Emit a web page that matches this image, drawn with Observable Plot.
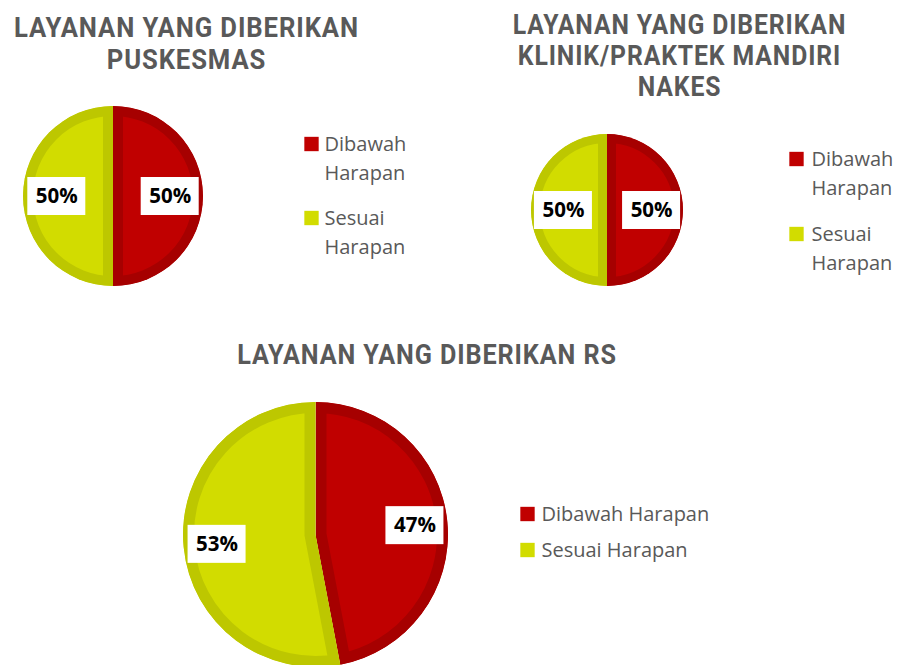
<!DOCTYPE html>
<html>
<head>
<meta charset="utf-8">
<script src="https://cdn.jsdelivr.net/npm/d3@7"></script>
<script src="https://cdn.jsdelivr.net/npm/@observablehq/plot@0.6"></script>
<style>
  html, body { margin: 0; padding: 0; background: #fff; }
  #chart { width: 897px; height: 665px; overflow: hidden; }
</style>
</head>
<body>
<div id="chart"></div>
<script>
// ---- data ----
const categories = ["Dibawah Harapan", "Sesuai Harapan"];
const puskesmasValues = [50, 50];
const klinikValues = [50, 50];
const rsValues = [47, 53];
const titlePuskesmas = ["LAYANAN YANG DIBERIKAN", "PUSKESMAS"];
const titleKlinik = ["LAYANAN YANG DIBERIKAN", "KLINIK/PRAKTEK MANDIRI", "NAKES"];
const titleRS = ["LAYANAN YANG DIBERIKAN RS"];
const legendPuskesmas = [["Dibawah", "Harapan"], ["Sesuai", "Harapan"]];
const legendKlinik = [["Dibawah", "Harapan"], ["Sesuai", "Harapan"]];
const legendRS = [["Dibawah Harapan"], ["Sesuai Harapan"]];

// ---- layout / style ----
const W = 897, H = 665;
const fills = ["#C00000", "#D2DC00"];
const rings = ["#A60000", "#BDC700"];
const titleColor = "#595959";
const titleSqueeze = 0.9;
const panels = [
  {values: puskesmasValues, title: titlePuskesmas, legend: legendPuskesmas,
   cx: 113, cy: 196, r: 90, ring: 10, labelK: 0.63,
   titleX: 186, titleY: 36, titleStep: 32, titleSize: 28.5,
   legX: 304, legTextX: 324, legY: [150, 224], legStep: 29},
  {values: klinikValues, title: titleKlinik, legend: legendKlinik,
   cx: 607, cy: 210, r: 76, ring: 9, labelK: 0.58,
   titleX: 679, titleY: 33, titleStep: 31, titleSize: 27.5,
   legX: 789, legTextX: 811, legY: [165, 240], legStep: 29},
  {values: rsValues, title: titleRS, legend: legendRS,
   cx: 315.5, cy: 534.5, r: 132.5, ring: 11, labelK: 0.75,
   titleX: 426.5, titleY: 363, titleStep: 32, titleSize: 28,
   legX: 520, legTextX: 541, legY: [520, 556], legStep: 30}
];

const pie = d3.pie().sort(null).value(d => d);

// derived rows
const titleRows = [], legendRows = [], labelRows = [];
panels.forEach((p, pi) => {
  p.title.forEach((line, i) => titleRows.push({text: line, x: p.titleX, y: p.titleY + i * p.titleStep, size: p.titleSize}));
  p.legend.forEach((lines, ci) => {
    legendRows.push({kind: "box", cat: categories[ci], x: p.legX + 7, y: p.legY[ci] - 6.5});
    lines.forEach((ln, li) => legendRows.push({kind: "text", text: ln, x: p.legTextX, y: p.legY[ci] + li * p.legStep}));
  });
  const arcs = pie(p.values);
  const total = d3.sum(p.values);
  arcs.forEach((a) => {
    const mid = (a.startAngle + a.endAngle) / 2;
    const rr = p.r * p.labelK;
    labelRows.push({
      text: Math.round(100 * a.value / total) + "%",
      x: p.cx + rr * Math.sin(mid),
      y: p.cy - rr * Math.cos(mid)
    });
  });
});

// custom pie mark drawn through Plot's scales
function pieMark(index, scales) {
  const g = d3.create("svg:g");
  const defs = g.append("defs");
  panels.forEach((p, pi) => {
    const cx = scales.x(p.cx), cy = scales.y(p.cy);
    const r = scales.x(p.cx + p.r) - cx;
    const arc = d3.arc().innerRadius(0).outerRadius(r);
    const sg = g.append("g").attr("transform", `translate(${cx},${cy})`);
    pie(p.values).forEach((a, ci) => {
      const id = `slice-${pi}-${ci}`;
      const d = arc(a);
      defs.append("clipPath").attr("id", id).append("path").attr("d", d);
      sg.append("path")
        .attr("d", d)
        .attr("fill", scales.color(categories[ci]))
        .attr("stroke", rings[ci])
        .attr("stroke-width", p.ring * 2)
        .attr("clip-path", `url(#${id})`);
    });
  });
  return g.node();
}

const plot = Plot.plot({
  width: W,
  height: H,
  margin: 0,
  style: {fontFamily: "'Open Sans', sans-serif", background: "#fff"},
  x: {domain: [0, W], range: [0, W], axis: null},
  y: {domain: [0, H], range: [0, H], axis: null},
  color: {domain: categories, range: fills},
  marks: [
    pieMark,
    Plot.rect(labelRows, {x1: d => d.x - 29, x2: d => d.x + 29, y1: d => d.y - 19, y2: d => d.y + 19, fill: "#fff"}),
    Plot.text(labelRows, {x: "x", y: "y", text: "text", fill: "#000", fontSize: 20.5, fontWeight: "bold", fontFamily: "'Open Sans', sans-serif"}),
    Plot.dot(legendRows.filter(d => d.kind === "box"), {x: "x", y: "y", symbol: "square", r: 8.1, fill: "cat", stroke: null}),
    Plot.text(legendRows.filter(d => d.kind === "text"), {x: "x", y: "y", text: "text", textAnchor: "start", lineAnchor: "bottom", fill: titleColor, fontSize: 20, fontFamily: "'Open Sans', sans-serif"}),
    Plot.text(titleRows, {x: "x", y: "y", text: "text", textAnchor: "middle", lineAnchor: "bottom", fill: titleColor, fontSize: d => d.size, fontWeight: "bold", fontFamily: "Roboto, 'Liberation Sans', sans-serif"})
  ]
});

// condensed look for titles: letter spacing + horizontal squeeze around each anchor
d3.select(plot).selectAll("g[font-family^='Roboto'] text").each(function() {
  const el = this;
  el.setAttribute("letter-spacing", "1px");
  const t = el.getAttribute("transform") || "";
  const x = el.getAttribute("x");
  if (x != null) el.setAttribute("x", +x / titleSqueeze);
  el.setAttribute("transform", (t + ` scale(${titleSqueeze},1)`).trim());
});
document.getElementById("chart").appendChild(plot);
</script>
</body>
</html>
